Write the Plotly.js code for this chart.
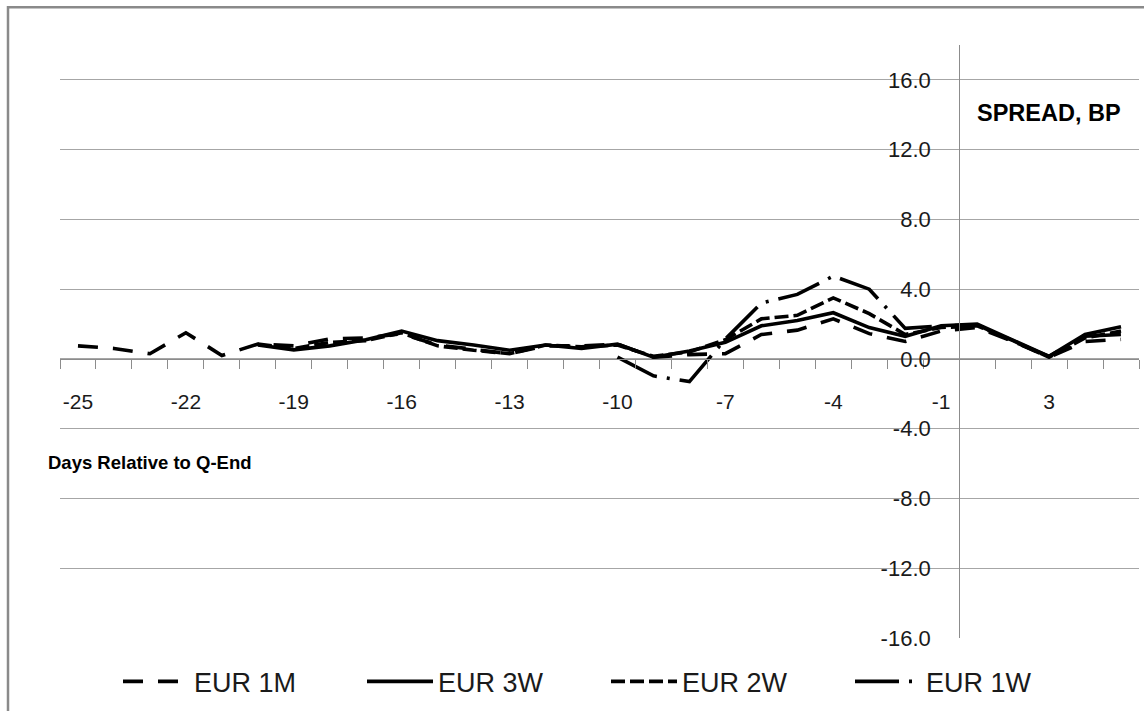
<!DOCTYPE html>
<html>
<head>
<meta charset="utf-8">
<script src="https://cdn.plot.ly/plotly-3.0.1.min.js"></script>
<style>
  html, body { margin: 0; padding: 0; background: #ffffff; }
  #chart { width: 1144px; height: 711px; }
</style>
</head>
<body>
<div id="chart"></div>
<script>
// ---- Data ----
const days = ['-25','-24','-23','-22','-21','-20','-19','-18','-17','-16','-15','-14','-13','-12','-11',
              '-10','-9','-8','-7','-6','-5','-4','-3','-2','-1','1','2','3','4','5'];
const labeledDays = ['-25','-22','-19','-16','-13','-10','-7','-4','-1','3'];

const eur1M = [0.75, 0.6, 0.3, 1.5, 0.2, 0.85, 0.75, 1.15, 1.2, 1.45, 0.8, 0.55, 0.3, 0.75, 0.75,
               0.85, 0.1, 0.25, 0.3, 1.4, 1.65, 2.3, 1.45, 1.0, 1.6, 1.8, 1.0, 0.1, 1.0, 1.12];
const eur3W = [null, null, null, null, null, 0.8, 0.52, 0.75, 1.1, 1.6, 1.05, 0.8, 0.5, 0.8, 0.6,
               0.85, 0.1, 0.45, 0.95, 1.9, 2.2, 2.65, 1.8, 1.3, 1.9, 2.0, 1.1, 0.15, 1.4, 1.85];
const eur2W = [null, null, null, null, null, 0.85, 0.6, 0.95, 1.05, 1.5, 0.75, 0.5, 0.3, 0.8, 0.7,
               0.8, 0.15, 0.4, 1.1, 2.3, 2.5, 3.5, 2.6, 1.4, 1.8, 1.9, 1.05, 0.1, 1.2, 1.6];
const eur1W = [null, null, null, null, null, null, null, null, null, null, null, null, null, null, null,
               0.1, -0.97, -1.3, 1.14, 3.2, 3.7, 4.75, 4.0, 1.75, 1.9, 1.95, 1.0, 0.15, 1.3, 1.4];

const seriesNames = ['EUR 1M', 'EUR 3W', 'EUR 2W', 'EUR 1W'];
const yTicks = [-16, -12, -8, -4, 0, 4, 8, 12, 16];

// ---- Geometry helpers (pixel -> paper) ----
const W = 1144, H = 711;
const M = { l: 60, r: 5, t: 45, b: 70 };
const PW = W - M.l - M.r, PH = H - M.t - M.b;
const px = x => (x - M.l) / PW;
const py = y => (H - M.b - y) / PH;

const FONT = 'Liberation Sans, Arial, sans-serif';
const dashes = ['20px,15px', 'solid', '14px,5px', '44px,10px,3px,10px'];
const values = [eur1M, eur3W, eur2W, eur1W];

const traces = values.map((v, i) => ({
  type: 'scatter',
  mode: 'lines',
  name: seriesNames[i],
  x: days,
  y: v,
  connectgaps: false,
  line: { color: '#000000', width: 3.6, dash: dashes[i] },
  hoverinfo: 'x+y+name'
}));

const yMin = -16, yMax = 18;
const layout = {
  width: W, height: H,
  margin: M,
  paper_bgcolor: '#ffffff',
  plot_bgcolor: '#ffffff',
  font: { family: FONT, color: '#1a1a1a', size: 21 },
  showlegend: true,
  legend: {
    orientation: 'h',
    x: px(118), xanchor: 'left',
    y: py(685), yanchor: 'middle',
    font: { family: FONT, size: 27, color: '#1a1a1a' },
    entrywidth: 163, entrywidthmode: 'pixels',
    itemwidth: 66,
    bgcolor: 'rgba(0,0,0,0)'
  },
  xaxis: {
    type: 'category',
    range: [-0.5, days.length - 0.5],
    anchor: 'free',
    position: (0 - yMin) / (yMax - yMin),
    showline: true, linecolor: '#8c8c8c', linewidth: 1,
    showgrid: false, zeroline: false,
    tickmode: 'array',
    tickvals: days,
    ticktext: days.map(d => labeledDays.includes(d) ? d : ''),
    tickson: 'boundaries',
    tickangle: 0,
    ticks: 'outside', ticklen: 9, tickcolor: '#8c8c8c', tickwidth: 1,
    ticklabelstandoff: 24,
    tickfont: { family: FONT, size: 21, color: '#1a1a1a' },
    fixedrange: true
  },
  yaxis: {
    range: [yMin, yMax],
    anchor: 'free',
    position: 25 / 30,
    showline: true, linecolor: '#8c8c8c', linewidth: 1,
    showgrid: true, gridcolor: '#a6a6a6', gridwidth: 1,
    zeroline: false,
    tickmode: 'array',
    tickvals: yTicks,
    ticktext: yTicks.map(v => v.toFixed(1)),
    ticks: '',
    ticklabelstandoff: 24,
    tickfont: { family: FONT, size: 22, color: '#1a1a1a' },
    fixedrange: true
  },
  shapes: [
    { type: 'rect', xref: 'paper', yref: 'paper',
      x0: px(8), x1: px(1200), y0: py(760), y1: py(7),
      line: { color: '#8a8a8a', width: 2.5 }, fillcolor: 'rgba(0,0,0,0)', layer: 'above' }
  ],
  annotations: [
    { text: '<b>SPREAD, BP</b>', xref: 'paper', yref: 'paper',
      x: px(975), y: py(113), xanchor: 'left', yanchor: 'middle', showarrow: false,
      font: { family: FONT, size: 23.5, color: '#000000' } },
    { text: '<b>Days Relative to Q-End</b>', xref: 'paper', yref: 'paper',
      x: px(46), y: py(465), xanchor: 'left', yanchor: 'middle', showarrow: false,
      font: { family: FONT, size: 18.5, color: '#000000' } }
  ]
};

Plotly.newPlot('chart', traces, layout, { displayModeBar: false, staticPlot: true });
</script>
</body>
</html>
